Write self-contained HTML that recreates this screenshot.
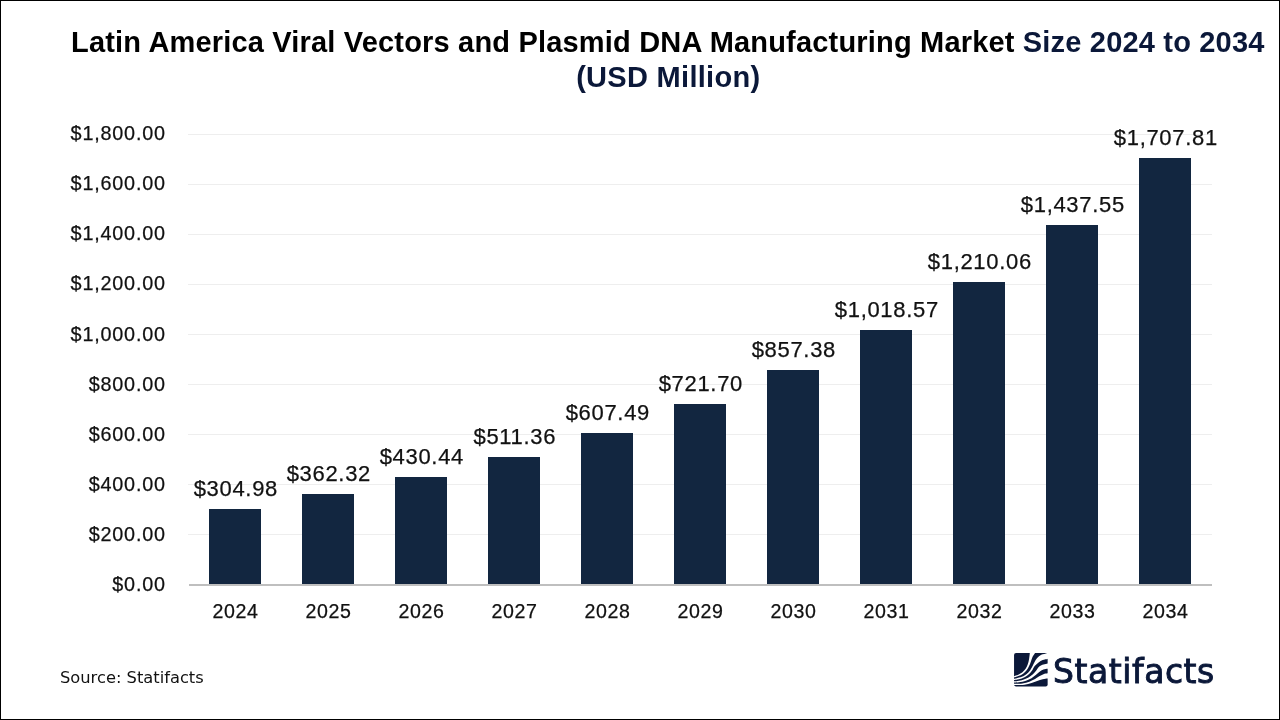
<!DOCTYPE html>
<html><head><meta charset="utf-8"><title>Chart</title>
<style>
html,body{margin:0;padding:0;background:#fff;}
body{width:1280px;height:720px;position:relative;overflow:hidden;font-family:"Liberation Sans",Arial,sans-serif;color:#000;}
.frame{position:absolute;left:0;top:0;width:1278px;height:718px;border:1px solid #000;}
.title{position:absolute;left:0;top:25px;width:1335.6px;text-align:center;font-weight:bold;font-size:29px;line-height:35px;color:#000;white-space:nowrap;letter-spacing:0.18px;}
.title .l2{letter-spacing:0.3px;margin-left:1px;}
.title span{color:#0b1839;}
.grid{position:absolute;left:188px;width:1024px;height:1px;background:#eeeeee;}
.axis{position:absolute;left:189px;width:1023px;height:2px;top:584px;background:#bfbfbf;}
.yl{position:absolute;left:0;width:165.8px;-webkit-text-stroke:0.25px #111;text-align:right;font-size:19.8px;line-height:24px;color:#111;white-space:nowrap;letter-spacing:0.8px;}
.bar{position:absolute;background:#122640;width:52px;}
.dl{position:absolute;width:160px;text-align:center;font-size:22px;line-height:26px;color:#111;white-space:nowrap;letter-spacing:0.68px;-webkit-text-stroke:0.25px #111;}
.xl{position:absolute;width:93px;text-align:center;font-size:19.6px;line-height:24px;top:599px;color:#111;letter-spacing:0.6px;-webkit-text-stroke:0.25px #111;}
.src{position:absolute;left:60px;top:668px;font-family:"DejaVu Sans","Liberation Sans",sans-serif;font-size:16.3px;line-height:20px;color:#111;}
.logo{position:absolute;left:1014px;top:653px;}
.logotxt{position:absolute;left:1053px;top:651px;font-family:"DejaVu Sans","Liberation Sans",sans-serif;font-size:33px;line-height:42px;color:#0b1839;white-space:nowrap;-webkit-text-stroke:0.9px #0b1839;letter-spacing:0.55px;}
</style></head><body>
<div class="frame"></div>
<div class="title">Latin America Viral Vectors and Plasmid DNA Manufacturing Market <span>Size 2024 to 2034<br><b class="l2">(USD Million)</b></span></div>

<div class="yl" style="top:572px">$0.00</div>
<div class="grid" style="top:534px"></div>
<div class="yl" style="top:522px">$200.00</div>
<div class="grid" style="top:484px"></div>
<div class="yl" style="top:472px">$400.00</div>
<div class="grid" style="top:434px"></div>
<div class="yl" style="top:422px">$600.00</div>
<div class="grid" style="top:384px"></div>
<div class="yl" style="top:372px">$800.00</div>
<div class="grid" style="top:334px"></div>
<div class="yl" style="top:322px">$1,000.00</div>
<div class="grid" style="top:284px"></div>
<div class="yl" style="top:271px">$1,200.00</div>
<div class="grid" style="top:234px"></div>
<div class="yl" style="top:221px">$1,400.00</div>
<div class="grid" style="top:184px"></div>
<div class="yl" style="top:171px">$1,600.00</div>
<div class="grid" style="top:134px"></div>
<div class="yl" style="top:121px">$1,800.00</div>
<div class="axis"></div>
<div class="bar" style="left:209px;top:509px;height:75px"></div>
<div class="dl" style="left:155.84px;top:476px">$304.98</div>
<div class="xl" style="left:189.0px">2024</div>
<div class="bar" style="left:302px;top:494px;height:90px"></div>
<div class="dl" style="left:248.84px;top:461px">$362.32</div>
<div class="xl" style="left:282.0px">2025</div>
<div class="bar" style="left:395px;top:477px;height:107px"></div>
<div class="dl" style="left:341.84px;top:444px">$430.44</div>
<div class="xl" style="left:375.0px">2026</div>
<div class="bar" style="left:488px;top:457px;height:127px"></div>
<div class="dl" style="left:434.84px;top:424px">$511.36</div>
<div class="xl" style="left:468.0px">2027</div>
<div class="bar" style="left:581px;top:433px;height:151px"></div>
<div class="dl" style="left:527.84px;top:400px">$607.49</div>
<div class="xl" style="left:561.0px">2028</div>
<div class="bar" style="left:674px;top:404px;height:180px"></div>
<div class="dl" style="left:620.84px;top:371px">$721.70</div>
<div class="xl" style="left:654.0px">2029</div>
<div class="bar" style="left:767px;top:370px;height:214px"></div>
<div class="dl" style="left:713.84px;top:337px">$857.38</div>
<div class="xl" style="left:747.0px">2030</div>
<div class="bar" style="left:860px;top:330px;height:254px"></div>
<div class="dl" style="left:806.84px;top:297px">$1,018.57</div>
<div class="xl" style="left:840.0px">2031</div>
<div class="bar" style="left:953px;top:282px;height:302px"></div>
<div class="dl" style="left:899.84px;top:249px">$1,210.06</div>
<div class="xl" style="left:933.0px">2032</div>
<div class="bar" style="left:1046px;top:225px;height:359px"></div>
<div class="dl" style="left:992.84px;top:192px">$1,437.55</div>
<div class="xl" style="left:1026.0px">2033</div>
<div class="bar" style="left:1139px;top:158px;height:426px"></div>
<div class="dl" style="left:1085.84px;top:125px">$1,707.81</div>
<div class="xl" style="left:1119.0px">2034</div>
<div class="src">Source: Statifacts</div>
<svg class="logo" width="33.7" height="33.6" viewBox="0 0 100 100"><rect x="0" y="0" width="100" height="100" rx="6" fill="#0b1839"/><g fill="#fff"><path d="M46.9,-2C46.9,-1.7 47.2,-3.3 46.9,0.0C46.5,3.3 45.8,12.0 44.8,17.7C43.8,23.4 42.3,29.5 40.6,34.4C38.9,39.3 37.0,43.1 34.4,46.9C31.8,50.7 28.6,54.3 25.0,57.3C21.4,60.2 16.7,62.6 12.5,64.6C8.3,66.5 2.4,68.2 0.0,69.0C-2.4,69.8 -1.7,69.2 -2.0,69.3L-2,72.6C-1.7,72.5 -2.4,72.9 0.0,72.3C2.4,71.7 8.0,70.5 12.5,68.8C17.0,67.0 22.8,64.5 27.0,61.5C31.2,58.5 34.5,54.8 37.5,51.0C40.5,47.2 42.7,42.7 44.8,38.5C46.9,34.3 48.3,30.5 50.0,26.0C51.7,21.5 53.1,15.8 55.2,11.5C57.3,7.2 61.1,2.2 62.5,0.0C63.9,-2.2 63.3,-1.7 63.5,-2.0Z"/><path d="M102,-2C101.3,-1.6 101.5,-0.6 98.0,0.6C94.5,1.8 85.9,2.9 81.0,5.2C76.1,7.5 72.0,11.1 68.8,14.6C65.5,18.1 63.8,22.0 61.5,26.0C59.2,30.0 57.5,34.3 55.2,38.5C53.0,42.7 51.0,47.0 48.0,51.0C45.0,55.0 41.7,59.2 37.5,62.5C33.3,65.8 29.2,68.4 23.0,70.8C16.8,73.2 4.2,75.9 0.0,77.0C-4.2,78.1 -1.7,77.3 -2.0,77.4L-2,80.2C-1.7,80.2 -2.8,80.4 0.0,80.0C2.8,79.6 9.4,79.3 14.6,78.0C19.8,76.7 26.2,74.5 31.2,71.9C36.3,69.3 41.0,66.0 44.8,62.5C48.6,59.0 51.4,55.0 54.2,51.0C57.0,47.0 58.4,42.3 61.5,38.5C64.6,34.7 69.0,30.9 73.0,28.0C77.0,25.1 80.9,22.5 85.4,20.8C89.9,19.1 97.2,18.2 100.0,17.7C102.8,17.1 101.7,17.5 102.0,17.5Z"/><path d="M102,31C101.7,31.0 102.4,30.7 100.0,31.2C97.6,31.8 91.5,33.0 87.5,34.4C83.5,35.8 79.5,36.8 76.0,39.6C72.5,42.4 70.0,47.0 66.7,51.0C63.4,55.0 60.4,59.7 56.2,63.5C52.1,67.3 47.2,71.0 41.7,74.0C36.2,77.0 29.9,79.5 23.0,81.2C16.1,83.0 4.2,83.8 0.0,84.4C-4.2,85.0 -1.7,84.6 -2.0,84.6L-2,87.6C-1.7,87.6 -2.8,87.6 0.0,87.5C2.8,87.4 8.7,87.8 14.6,86.9C20.5,86.0 29.2,84.3 35.4,82.3C41.6,80.3 47.1,77.8 52.0,75.0C56.9,72.2 60.8,68.7 64.6,65.6C68.4,62.5 71.2,59.0 75.0,56.2C78.8,53.5 83.3,51.0 87.5,49.4C91.7,47.8 97.6,47.3 100.0,46.9C102.4,46.5 101.7,46.7 102.0,46.7Z"/><path d="M102,60.2C101.7,60.2 102.4,59.9 100.0,60.4C97.6,60.9 91.7,61.6 87.5,63.1C83.3,64.6 79.2,67.0 75.0,69.4C70.8,71.8 67.4,75.0 62.5,77.7C57.6,80.4 52.0,83.2 45.8,85.4C39.5,87.6 32.6,89.5 25.0,90.6C17.4,91.6 4.5,91.5 0.0,91.7C-4.5,91.9 -1.7,91.8 -2.0,91.8L-2,95.8C-1.7,95.8 -2.1,95.8 0.0,95.8C2.1,95.8 5.2,95.8 10.4,95.6C15.6,95.4 24.3,95.4 31.2,94.4C38.2,93.4 45.8,91.4 52.0,89.6C58.2,87.8 63.2,85.2 68.8,83.3C74.3,81.4 80.2,79.3 85.4,78.1C90.6,76.9 97.2,76.4 100.0,76.0C102.8,75.6 101.7,75.9 102.0,75.9Z"/></g></svg>
<div class="logotxt">Statifacts</div>
</body></html>
